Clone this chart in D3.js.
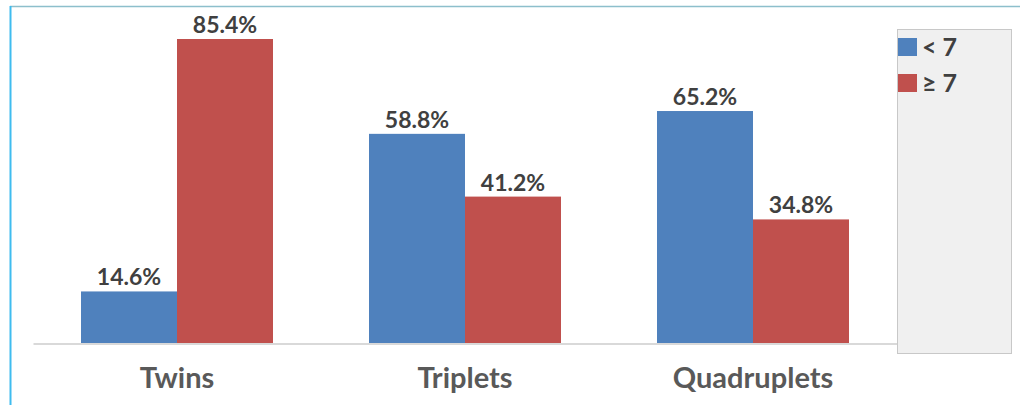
<!DOCTYPE html>
<html><head><meta charset="utf-8">
<script src="https://cdn.jsdelivr.net/npm/d3@7"></script>
<style>html,body{margin:0;padding:0;background:#fff;}svg{display:block;}</style>
</head><body>
<svg id="c" width="1020" height="405"></svg>
<script>
const categories = ["Twins", "Triplets", "Quadruplets"];
const seriesNames = ["< 7", "\u2265 7"];
const lessThan7 = [14.6, 58.8, 65.2];
const atLeast7 = [85.4, 41.2, 34.8];
const seriesColors = ["#4f81bd", "#c0504d"];

const svg = d3.select("#c");
const font = "Lato, 'Open Sans', sans-serif";

// frame borders
svg.append("line").attr("x1", 10).attr("x2", 1020).attr("y1", 6.5).attr("y2", 6.5)
  .attr("stroke", "#8dbfcc").attr("stroke-width", 1.5);
svg.append("line").attr("x1", 10.5).attr("x2", 10.5).attr("y1", 6).attr("y2", 405)
  .attr("stroke", "#3fbcef").attr("stroke-width", 2);

const baseY = 343.5;
const x0 = d3.scaleBand().domain(categories).range([33, 897]).paddingInner(0).paddingOuter(0);
const x1 = d3.scaleBand().domain([0, 1]).range([0, x0.bandwidth()]).paddingOuter(0.5).paddingInner(0);
const y = d3.scaleLinear().domain([0, 85.4]).range([baseY, 39]);

const data = categories.map((c, i) => ({ cat: c, vals: [lessThan7[i], atLeast7[i]] }));

const g = svg.append("g");
const groups = g.selectAll("g.grp").data(data).join("g")
  .attr("transform", d => `translate(${x0(d.cat)},0)`);

groups.selectAll("rect").data(d => d.vals.map((v, k) => ({ v, k }))).join("rect")
  .attr("x", d => x1(d.k))
  .attr("width", x1.bandwidth())
  .attr("y", d => y(d.v))
  .attr("height", d => baseY - y(d.v))
  .attr("fill", d => seriesColors[d.k]);

groups.selectAll("text.lbl").data(d => d.vals.map((v, k) => ({ v, k }))).join("text")
  .attr("class", "lbl")
  .attr("x", d => x1(d.k) + x1.bandwidth() / 2)
  .attr("y", d => y(d.v) - 6)
  .attr("text-anchor", "middle")
  .attr("font-family", font).attr("font-weight", "bold").attr("font-size", 23)
  .attr("fill", "#404040")
  .text(d => d.v.toFixed(1) + "%");

// axis
const axis = d3.axisBottom(x0).tickSize(0).tickPadding(24);
const ax = svg.append("g").attr("transform", `translate(0,${baseY})`).call(axis);
ax.select(".domain").attr("stroke", "#d9d9d9").attr("stroke-width", 2);
ax.selectAll("text").attr("font-family", font).attr("font-weight", "bold")
  .attr("font-size", 29).attr("fill", "#595959");

// legend
const lg = svg.append("g");
lg.append("rect").attr("x", 897.5).attr("y", 29.5).attr("width", 114).attr("height", 324)
  .attr("fill", "#f0f0f0").attr("stroke", "#c8c8c8").attr("stroke-width", 1);
seriesNames.forEach((s, i) => {
  lg.append("rect").attr("x", 898).attr("y", 38 + i * 36).attr("width", 19).attr("height", 18)
    .attr("fill", seriesColors[i]);
  lg.append("text").attr("x", 922).attr("y", 56 + i * 36)
    .attr("font-family", font).attr("font-weight", "bold").attr("font-size", 25)
    .attr("fill", "#404040").text(s);
});
</script>
</body></html>
